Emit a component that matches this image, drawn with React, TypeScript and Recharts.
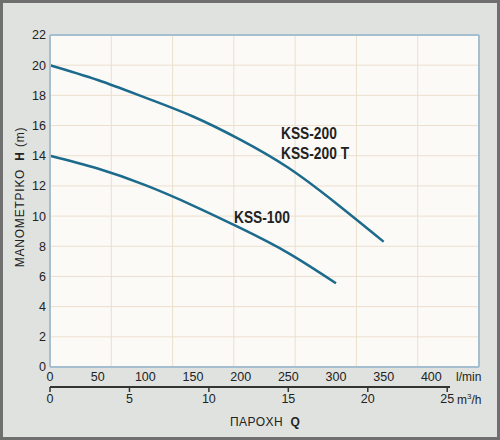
import React from "react";
import {CartesianGrid, Line, LineChart, ReferenceLine, XAxis, YAxis} from "recharts";

// flow in l/min, head in m
const flows: number[] = [0, 50, 100, 150, 200, 250, 300, 350];
const headKss200: number[] = [20, 19.02, 17.85, 16.6, 15.05, 13.2, 10.85, 8.3];
const headKss100: number[] = [14, 13.15, 12.05, 10.7, 9.2, 7.55, 5.55];

const flowTicks: number[] = [0, 50, 100, 150, 200, 250, 300, 350, 400];
const m3Ticks: number[] = [0, 5, 10, 15, 20, 25];
const headTicks: number[] = [0, 2, 4, 6, 8, 10, 12, 14, 16, 18, 20, 22];

const chartData = flows.map((q, i) => ({
  q,
  kss200: headKss200[i],
  kss100: headKss100[i],
}));

// m3/h ticks drawn on the l/min scale
const m3TicksLmin = m3Ticks.map((v) => (v * 1000) / 60);

const curveColor = "#1c6a8c";
const frameBlue = "#a6bfd0";
const gridColor = "#ecdfcd";
const textColor = "#222";

const curveFont: React.CSSProperties = {
  fontFamily: "'Liberation Sans', Arial, sans-serif",
  fontWeight: "bold",
  fontSize: 16,
  transform: "scaleX(0.86)",
  transformOrigin: "left center",
};

const label = (left: number, top: number, text: string, extra: React.CSSProperties = {}) => (
  <div
    style={{
      position: "absolute",
      left,
      top,
      whiteSpace: "nowrap",
      color: textColor,
      lineHeight: 1,
      ...extra,
    }}
  >
    {text}
  </div>
);

export default function App() {
  return (
    <div
      style={{
        position: "absolute",
        left: 0,
        top: 0,
        width: 500,
        height: 440,
        background: "#dfe2df",
        fontFamily: "'Liberation Sans', Arial, sans-serif",
        overflow: "hidden",
      }}
    >
      <LineChart
        width={500}
        height={440}
        data={chartData}
        margin={{top: 35, right: 21, left: 0, bottom: 20}}
      >
        <CartesianGrid stroke={gridColor} fill="#fbfaf7" strokeWidth={1}/>
        <XAxis
          xAxisId="lmin"
          dataKey="q"
          type="number"
          domain={[0, 450]}
          ticks={flowTicks}
          height={20}
          tickSize={0}
          tickMargin={5}
          tickLine={false}
          axisLine={{stroke: frameBlue, strokeWidth: 2}}
          tick={{fill: textColor, fontSize: 12.5}}
        />
        <XAxis
          xAxisId="m3"
          dataKey="q"
          type="number"
          domain={[0, 450]}
          ticks={m3TicksLmin}
          tickFormatter={(v: number) => String(Math.round((v * 60) / 1000))}
          height={33}
          tickSize={5}
          tickMargin={2}
          axisLine={false}
          tickLine={{stroke: "#333", strokeWidth: 1.5}}
          tick={{fill: textColor, fontSize: 12.5}}
          interval={0}
        />
        <YAxis
          type="number"
          domain={[0, 22]}
          ticks={headTicks}
          width={50}
          tickSize={0}
          tickMargin={4}
          tickLine={false}
          axisLine={{stroke: frameBlue, strokeWidth: 2}}
          tick={{fill: textColor, fontSize: 12.5}}
        />
        <ReferenceLine xAxisId="lmin" x={450} stroke={frameBlue} strokeWidth={2}/>
        <ReferenceLine xAxisId="lmin" y={22} stroke={frameBlue} strokeWidth={2}/>
        <Line
          xAxisId="lmin"
          type="natural"
          dataKey="kss200"
          stroke={curveColor}
          strokeWidth={2.5}
          dot={false}
          isAnimationActive={false}
        />
        <Line
          xAxisId="lmin"
          type="natural"
          dataKey="kss100"
          stroke={curveColor}
          strokeWidth={2.5}
          dot={false}
          isAnimationActive={false}
        />
      </LineChart>

      {/* m3/h scale line */}
      <div style={{position: "absolute", left: 50, top: 386, width: 400, height: 1.5, background: "#333"}}/>

      {label(281, 126, "KSS-200", curveFont)}
      {label(281, 146, "KSS-200 T", curveFont)}
      {label(234, 210, "KSS-100", curveFont)}

      {label(456, 371, "l/min", {fontSize: 12})}
      <div style={{position: "absolute", left: 457, top: 393, fontSize: 12, color: textColor, lineHeight: 1}}>
        m<sup style={{fontSize: 8}}>3</sup>/h
      </div>

      <div
        style={{
          position: "absolute",
          left: 230,
          top: 416,
          fontSize: 12,
          letterSpacing: 0.4,
          color: textColor,
          whiteSpace: "nowrap",
          lineHeight: 1,
        }}
      >
        ΠΑΡΟΧΗ&nbsp;&nbsp;<b>Q</b>
      </div>

      <div
        style={{
          position: "absolute",
          left: 20,
          top: 197,
          transform: "translate(-50%, -50%) rotate(-90deg)",
          fontSize: 12,
          letterSpacing: 0.8,
          color: textColor,
          whiteSpace: "nowrap",
          lineHeight: 1,
        }}
      >
        ΜΑΝΟΜΕΤΡΙΚΟ&nbsp;&nbsp;<b>H</b> (m)
      </div>

      <div
        style={{
          position: "absolute",
          left: 0,
          top: 0,
          width: 500,
          height: 440,
          boxSizing: "border-box",
          border: "3px solid #6f6f6f",
          pointerEvents: "none",
        }}
      />
    </div>
  );
}
